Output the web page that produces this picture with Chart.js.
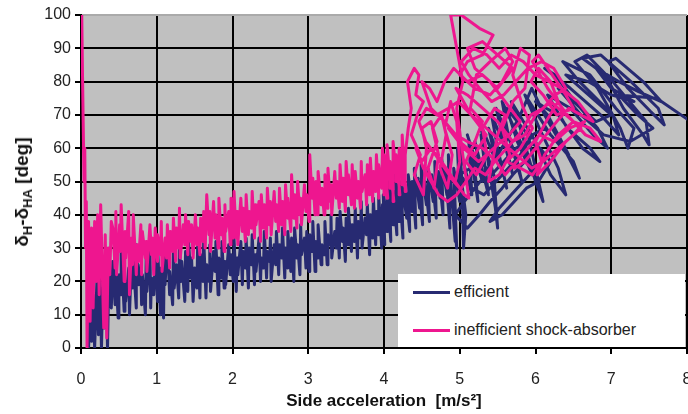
<!DOCTYPE html>
<html>
<head>
<meta charset="utf-8">
<script src="https://cdn.jsdelivr.net/npm/chart.js@4.4.1/dist/chart.umd.min.js"></script>
<style>
  html, body { margin: 0; padding: 0; background: #fff; }
  #wrap { position: relative; width: 688px; height: 414px; overflow: hidden; font-family: "Liberation Sans", Arial, sans-serif; }
  #chart { position: absolute; left: 0; top: 0; }
  .ytitle { position: absolute; left: 23px; top: 192px; transform: translate(-50%, -50%) rotate(-90deg); white-space: nowrap; font-weight: bold; font-size: 19px; color: #111; }
  .ytitle sub { font-size: 13px; vertical-align: -4px; }
  .xtitle { position: absolute; left: 384px; top: 401px; transform: translate(-50%, -50%); white-space: nowrap; font-weight: bold; font-size: 17px; color: #111; }
  #legend { position: absolute; left: 398px; top: 274px; width: 287px; height: 73px; background: #fff; }
  .item { position: absolute; left: 15px; height: 20px; display: flex; align-items: center; font-size: 16px; color: #222; }
  .item .swatch { width: 37px; height: 3px; margin-right: 4px; }
</style>
</head>
<body>
<div id="wrap">
  <canvas id="chart" width="688" height="414"></canvas>
  <div class="ytitle">δ<sub>H</sub>-δ<sub>HA</sub> [deg]</div>
  <div class="xtitle">Side acceleration&nbsp; [m/s²]</div>
  <div id="legend"></div>
</div>
<script>
// axis ticks
const xTicks = [0, 1, 2, 3, 4, 5, 6, 7, 8];
const yTicks = [0, 10, 20, 30, 40, 50, 60, 70, 80, 90, 100];

// series names + colours
const seriesNames = ["efficient", "inefficient shock-absorber"];
const seriesColors = ["#272a72", "#ee168f"];

const effX = [
  0.10, 0.12, 0.14, 0.16, 0.18, 0.21, 0.23, 0.25, 0.27, 0.29, 0.31, 0.33, 0.35, 0.37, 0.40,
  0.42, 0.45, 0.45, 0.49, 0.50, 0.53, 0.53, 0.57, 0.58, 0.59, 0.63, 0.64, 0.67, 0.68, 0.69, 0.73, 0.73, 0.76, 0.79, 0.80,
  0.81, 0.85, 0.86, 0.87, 0.91, 0.92, 0.93, 0.96, 0.98, 1.01, 1.01, 1.05, 1.06, 1.09, 1.10, 1.11, 1.14, 1.17, 1.17, 1.21,
  1.22, 1.23, 1.26, 1.29, 1.30, 1.32, 1.33, 1.37, 1.38, 1.41, 1.42, 1.45, 1.46, 1.48, 1.50, 1.53, 1.54, 1.57, 1.58, 1.61,
  1.62, 1.65, 1.66, 1.69, 1.70, 1.71, 1.75, 1.77, 1.78, 1.81, 1.82, 1.85, 1.86, 1.89, 1.90, 1.91, 1.95, 1.97, 1.98, 2.01,
  2.02, 2.05, 2.06, 2.07, 2.11, 2.13, 2.14, 2.17, 2.18, 2.21, 2.22, 2.25, 2.26, 2.29, 2.30, 2.31, 2.35, 2.37, 2.38, 2.41,
  2.42, 2.45, 2.46, 2.49, 2.50, 2.51, 2.55, 2.57, 2.58, 2.61, 2.62, 2.65, 2.66, 2.69, 2.70, 2.73, 2.73, 2.77, 2.78, 2.81,
  2.82, 2.85, 2.86, 2.89, 2.90, 2.91, 2.95, 2.97, 2.98, 3.01, 3.02, 3.05, 3.06, 3.09, 3.10, 3.13, 3.13, 3.17, 3.18, 3.21,
  3.22, 3.25, 3.26, 3.29, 3.30, 3.31, 3.35, 3.37, 3.38, 3.41, 3.42, 3.45, 3.46, 3.49, 3.50, 3.53, 3.53, 3.57, 3.58, 3.61,
  3.62, 3.65, 3.66, 3.69, 3.70, 3.71, 3.75, 3.77, 3.78, 3.81, 3.82, 3.85, 3.86, 3.89, 3.90, 3.93, 3.93, 3.97, 3.98,
  4.01, 3.99, 4.05, 4.04, 4.09, 4.07, 4.13, 4.12, 4.17, 4.15, 4.21, 4.20, 4.25, 4.23, 4.30, 4.28, 4.34, 4.32, 4.38, 4.37,
  4.42, 4.40, 4.47, 4.45, 4.51, 4.49, 4.56, 4.54, 4.60, 4.58, 4.65, 4.63, 4.69, 4.67, 4.74, 4.72, 4.78, 4.76, 4.83, 4.81,
  4.87, 4.85, 4.94, 4.88, 4.96, 4.92, 5.00, 4.97,
  5.08, 5.05, 5.03, 5.00, 5.16, 5.12, 5.24, 5.18, 5.10, 5.30, 5.20, 5.38, 5.28, 5.45, 5.50, 5.47, 5.36, 5.26, 5.48, 5.38,
  5.56, 5.62, 5.50, 5.42, 5.64, 5.70, 5.56, 5.48, 5.74, 5.82, 5.64, 5.56, 5.84, 5.96, 5.76, 5.62, 5.90, 6.10, 6.00, 5.80,
  5.68, 6.00, 6.20, 6.40, 6.30, 6.05, 5.86, 6.20, 6.50, 6.58, 6.42, 6.12, 5.95,
  5.80, 5.66, 5.50, 5.34, 5.20, 5.06, 4.94, 5.10, 5.26, 5.40, 5.56, 5.70, 5.86, 6.00, 5.84, 5.68, 5.52, 5.40, 5.56, 5.72,
  5.88, 6.04, 6.20, 6.06, 5.90, 5.74, 5.58, 5.42, 5.28, 5.14, 5.00, 5.16, 5.32, 5.48, 5.64, 5.80, 5.96, 6.12, 6.28, 6.44,
  6.30, 6.16, 6.00, 6.14,
  6.30, 6.62, 6.85, 6.72, 6.42, 6.16, 6.46, 6.76, 6.95, 6.82, 6.52, 6.26, 6.12, 6.46, 6.86, 7.10, 7.02, 6.58, 6.36, 6.72,
  7.06, 7.30, 7.22, 7.12, 6.82, 6.52, 6.68, 7.02, 7.46, 7.50, 7.42, 7.16, 6.92, 6.62, 6.86, 7.26, 7.62, 7.70, 7.52, 7.22,
  6.96, 7.06, 7.42, 7.66, 7.36, 7.10, 6.80, 7.00, 7.30, 7.00, 6.70, 6.40, 6.70, 7.00, 6.80, 6.50, 6.30, 6.60, 6.90, 7.25,
  7.55, 7.35, 7.10, 7.60, 8.05
];
const effY = [
  0, 14, 2, 16, 0, 20, 4, 24, 0, 18, 6, 22, 0, 25, 12,
  26, 13, 27, 9, 22, 16, 30, 11, 20, 14, 24, 10, 29, 18, 26, 12, 31, 19, 25, 13,
  22, 10, 27, 17, 30, 12, 21, 16, 29, 14, 31, 10, 24, 9, 28, 19, 32, 16, 23, 13,
  30, 18, 25, 15, 31, 20, 26, 14, 29, 17, 32, 21, 27, 14, 24, 18, 31, 15, 28, 20,
  33, 15, 25, 20, 31, 17, 29, 23, 32, 16, 27, 21, 32, 18, 26, 19, 31, 22, 28, 20,
  33, 17, 27, 22, 32, 19, 29, 24, 33, 18, 30, 25, 34, 19, 28, 23, 33, 20, 27, 24,
  35, 21, 29, 26, 33, 20, 31, 25, 35, 22, 31, 27, 36, 21, 30, 24, 35, 23, 33, 20,
  36, 27, 31, 22, 37, 28, 33, 24, 35, 23, 34, 29, 38, 23, 32, 27, 37, 25, 31, 28,
  38, 25, 34, 31, 40, 27, 35, 30, 39, 27, 41, 32, 36, 26, 39, 31, 42, 29, 37, 32,
  42, 27, 38, 33, 44, 30, 39, 34, 43, 28, 40, 33, 45, 31, 41, 34, 46, 30, 43,
  31, 46, 35, 48, 32, 50, 37, 47, 34, 52, 38, 49, 33, 50, 39, 48, 35, 52, 41, 50,
  36, 54, 42, 51, 37, 55, 43, 50, 38, 54, 44, 52, 39, 56, 45, 53, 40, 57, 46, 54,
  36, 58, 32, 50, 30, 54, 44, 60,
  40, 30, 50, 60, 46, 62, 44, 58, 64, 50, 62, 46, 64, 52, 36, 42, 58, 68, 56, 66,
  54, 48, 60, 70, 58, 52, 64, 72, 58, 50, 64, 74, 60, 52, 62, 72, 64, 44, 50, 66,
  74, 62, 52, 46, 54, 66, 76, 64, 56, 51, 58, 70, 78,
  70, 64, 58, 52, 48, 44, 40, 36, 40, 44, 48, 52, 56, 54, 50, 46, 42, 38, 40, 44,
  48, 50, 56, 60, 62, 60, 56, 52, 56, 54, 52, 48, 46, 50, 54, 58, 64, 66, 62, 58,
  64, 70, 74, 72,
  70, 60, 56, 60, 66, 76, 72, 64, 60, 66, 74, 82, 84, 78, 70, 64, 70, 80, 86, 82,
  72, 66, 60, 66, 78, 86, 88, 80, 68, 61, 64, 72, 82, 87, 88, 80, 72, 67, 71, 78,
  86, 87, 80, 74, 77, 80, 84, 78, 74, 76, 80, 82, 76, 70, 68, 74, 78, 70, 64, 62,
  66, 70, 76, 75, 68
];

const inefX = [
  0.01, 0.02, 0.03, 0.04, 0.05, 0.06, 0.07, 0.08, 0.10, 0.12, 0.14, 0.16, 0.18, 0.20, 0.22, 0.24, 0.26, 0.28, 0.30, 0.32,
  0.34, 0.36, 0.38, 0.40,
  0.42, 0.45, 0.46, 0.47, 0.51, 0.52, 0.53, 0.57, 0.58, 0.59, 0.63, 0.64, 0.67, 0.68, 0.69, 0.73, 0.74, 0.76, 0.79, 0.80,
  0.81, 0.85, 0.86, 0.87, 0.91, 0.93, 0.94, 0.96, 0.98, 1.01, 1.01, 1.05, 1.06, 1.07, 1.11, 1.13, 1.14, 1.17, 1.18, 1.21,
  1.22, 1.25, 1.26, 1.29, 1.30, 1.31, 1.35, 1.37, 1.38, 1.41, 1.42, 1.45, 1.46, 1.48, 1.51, 1.53, 1.54, 1.57, 1.58, 1.61,
  1.62, 1.64, 1.66, 1.69, 1.70, 1.71, 1.75, 1.77, 1.78, 1.81, 1.82, 1.85, 1.86, 1.89, 1.90, 1.91, 1.95, 1.97, 1.98, 2.01,
  2.02, 2.05, 2.06, 2.07, 2.11, 2.13, 2.14, 2.17, 2.18, 2.21, 2.22, 2.25, 2.26, 2.29, 2.30, 2.31, 2.35, 2.37, 2.38, 2.41,
  2.42, 2.45, 2.46, 2.49, 2.50, 2.51, 2.55, 2.57, 2.58, 2.61, 2.62, 2.65, 2.66, 2.69, 2.70, 2.73, 2.73, 2.77, 2.78, 2.81,
  2.82, 2.85, 2.86, 2.89, 2.90, 2.91, 2.95, 2.97, 2.98, 3.01, 3.02, 3.05, 3.06, 3.09, 3.10, 3.13, 3.13, 3.17, 3.18, 3.21,
  3.22, 3.25, 3.26, 3.29, 3.30, 3.31, 3.35, 3.37, 3.38, 3.41, 3.42, 3.45, 3.46, 3.49, 3.50, 3.53, 3.53, 3.57, 3.58, 3.61,
  3.62, 3.65, 3.66, 3.69, 3.70, 3.71, 3.75, 3.77, 3.78, 3.81, 3.82, 3.85, 3.86, 3.89, 3.90, 3.93, 3.93, 3.97, 3.98,
  4.01, 4.00, 4.05, 4.04, 4.09, 4.08, 4.13, 4.12, 4.17, 4.16, 4.21, 4.20, 4.25, 4.24, 4.29, 4.28, 4.32, 4.36, 4.31, 4.40,
  4.46, 4.42, 4.52, 4.44, 4.36, 4.48, 4.40, 4.52, 4.56, 4.50, 4.62, 4.70, 4.58, 4.66, 4.72, 4.64, 4.76, 4.82, 4.74, 4.84,
  4.90, 4.80, 4.88, 4.96, 5.00, 4.94, 5.06, 5.12, 5.04, 4.96, 5.04, 4.96, 4.88, 5.02, 5.26, 5.44, 5.30, 5.10, 5.00, 5.20,
  5.40, 5.56, 5.70, 5.60, 5.40, 5.22, 5.14, 5.30, 5.20, 5.08, 5.22, 5.36, 5.30, 5.46, 5.60, 5.50, 5.38, 5.52, 5.66, 5.56,
  5.70, 5.86, 5.92, 5.80, 5.70, 5.84, 5.96, 5.80, 5.62, 5.80, 5.96, 6.08, 6.00, 6.14, 6.30, 6.20, 6.04, 5.94, 6.10, 6.28,
  6.50, 6.40, 6.22, 6.04, 5.96, 6.16, 6.42, 6.66, 6.86, 6.72, 6.50, 6.30, 6.12, 6.02, 6.20, 6.40, 6.60, 6.40, 6.20, 6.00,
  5.86, 5.70, 5.50, 5.30, 5.10, 4.95, 5.15, 5.35, 5.20, 5.00, 4.85, 5.05, 5.25, 5.45, 5.65, 5.80, 5.60, 5.40, 5.20, 5.10,
  5.30, 5.50, 5.70, 5.50, 5.30, 5.10, 4.92, 4.80, 4.70, 4.60, 4.50, 4.62, 4.80, 4.95, 5.10, 5.30, 5.48, 5.60,
  5.75, 5.90, 6.05, 6.25, 6.45, 6.65, 6.50, 6.30, 6.10, 5.95, 5.75, 5.55, 5.35, 5.15, 4.98, 4.85, 4.70, 4.56, 4.46, 4.55,
  4.68, 4.80, 4.92, 5.00, 4.88, 4.76, 4.62, 4.50, 4.42, 4.52, 4.62, 4.72, 4.84, 4.96, 5.08, 5.20, 5.34, 5.46, 5.62, 5.78,
  5.94, 6.10, 6.26, 6.40, 6.24, 6.08, 5.90, 5.74, 5.58, 5.42, 5.26, 5.12, 5.02, 5.18, 5.36, 5.52, 5.68, 5.84, 6.00, 6.18,
  6.34, 6.56, 6.76, 6.60, 6.44, 6.28, 6.14, 6.00, 5.86, 5.72
];
const inefY = [
  100, 82, 66, 50, 60, 30, 44, 0, 38, 8, 36, 12, 38, 20, 40, 16, 43, 24, 6, 34,
  3, 30, 22, 38,
  36, 24, 41, 22, 37, 29, 43, 20, 35, 27, 41, 16, 33, 25, 40, 22, 31, 26, 37, 22,
  35, 27, 32, 23, 37, 28, 33, 22, 36, 26, 34, 28, 38, 23, 33, 27, 37, 24, 35, 29,
  39, 26, 36, 30, 42, 27, 37, 31, 40, 28, 38, 32, 37, 27, 40, 31, 36, 28, 39, 32,
  41, 30, 46, 34, 41, 29, 44, 33, 40, 30, 45, 34, 39, 29, 43, 35, 41, 31, 45, 33,
  47, 33, 41, 31, 45, 35, 42, 32, 46, 34, 41, 36, 47, 33, 43, 37, 44, 32, 46, 36,
  43, 33, 48, 37, 44, 34, 47, 38, 43, 35, 48, 37, 44, 34, 49, 39, 45, 35, 52, 39,
  46, 36, 50, 40, 45, 37, 49, 41, 46, 38, 58, 45, 51, 40, 50, 40, 53, 43, 48, 40,
  52, 42, 54, 44, 49, 40, 53, 45, 50, 42, 55, 44, 51, 41, 56, 46, 52, 43, 55, 42,
  53, 45, 50, 42, 56, 47, 52, 43, 55, 46, 57, 44, 53, 47, 58, 45, 55, 48, 60,
  46, 58, 45, 61, 48, 56, 44, 62, 50, 58, 46, 60, 49, 64, 47, 58, 66, 72, 80, 84,
  82, 76, 74, 70, 64, 58, 52, 46, 60, 66, 68, 62, 54, 48, 58, 66, 70, 64, 54, 48,
  58, 66, 74, 68, 56, 50, 46, 45, 58, 72, 80, 90, 100, 100, 96, 94, 88, 86, 82, 78,
  76, 80, 86, 90, 86, 82, 72, 68, 62, 56, 52, 58, 66, 72, 70, 64, 50, 52, 58, 66,
  74, 78, 88, 90, 82, 72, 66, 60, 56, 54, 52, 56, 62, 68, 74, 80, 84, 80, 76, 70,
  72, 76, 82, 88, 86, 78, 70, 64, 62, 66, 68, 64, 58, 52, 56, 62, 66, 70, 74, 70,
  64, 62, 68, 72, 76, 78, 70, 64, 58, 62, 66, 60, 56, 60, 64, 68, 74, 80, 84, 90,
  92, 88, 84, 78, 82, 80, 84, 80, 74, 78, 80, 72, 68, 64, 62, 60, 56, 52,
  56, 60, 64, 62, 66, 68, 64, 60, 56, 54, 58, 62, 66, 70, 74, 72, 70, 72, 68, 62,
  58, 54, 50, 48, 52, 56, 60, 56, 60, 54, 50, 46, 44, 46, 50, 54, 52, 56, 60, 64,
  70, 72, 76, 78, 84, 86, 84, 80, 76, 74, 78, 82, 86, 90, 88, 84, 88, 86, 82, 80,
  78, 74, 68, 70, 72, 68, 64, 60, 56, 54
];

const toPoints = (xs, ys) => xs.map((x, i) => ({ x: x, y: ys[i] }));

// grey plot background
const plotBg = {
  id: "plotBg",
  beforeDraw(chart) {
    const a = chart.chartArea, c = chart.ctx;
    c.save();
    c.fillStyle = "#c0c0c0";
    c.fillRect(a.left, a.top, a.right - a.left, a.bottom - a.top);
    c.restore();
  }
};

const tickFont = { family: "'Liberation Sans', Arial, sans-serif", size: 16 };

new Chart(document.getElementById("chart"), {
  type: "line",
  data: {
    datasets: [
      { label: seriesNames[1], data: toPoints(inefX, inefY), borderColor: seriesColors[1] },
      { label: seriesNames[0], data: toPoints(effX, effY), borderColor: seriesColors[0] }
    ].map((d) => ({ ...d, borderWidth: 3, pointRadius: 0, tension: 0, borderJoinStyle: "round", borderCapStyle: "round", clip: 0 }))
  },
  options: {
    responsive: false,
    animation: false,
    layout: { padding: { top: 15, right: 1, left: 0, bottom: 0 } },
    plugins: { legend: { display: false }, tooltip: { enabled: false } },
    scales: {
      x: {
        type: "linear", min: xTicks[0], max: xTicks[xTicks.length - 1],
        afterBuildTicks: (s) => { s.ticks = xTicks.map((v) => ({ value: v })); },
        afterFit: (s) => { s.height = 66; s.paddingLeft = 0; s.paddingRight = 0; },
        ticks: { color: "#222", font: tickFont, padding: 16, maxRotation: 0 },
        grid: { color: "#000", lineWidth: 2, tickLength: 6, tickColor: "#000" },
        border: { color: "#000", width: 2 }
      },
      y: {
        min: yTicks[0], max: yTicks[yTicks.length - 1],
        afterBuildTicks: (s) => { s.ticks = yTicks.map((v) => ({ value: v })); },
        afterFit: (s) => { s.width = 81; s.paddingTop = 0; s.paddingBottom = 0; },
        ticks: { color: "#222", font: tickFont, padding: 4 },
        grid: {
          color: (c) => (c.tick && c.tick.value === 100 ? "#aaa" : "#000"),
          lineWidth: 2, tickLength: 6, tickColor: "#000"
        },
        border: { color: "#000", width: 2 }
      }
    }
  },
  plugins: [plotBg]
});

// legend box inside the plot, as in the picture
const legend = document.getElementById("legend");
[0, 1].forEach((i) => {
  const row = document.createElement("div");
  row.className = "item";
  row.style.top = (i === 0 ? 8 : 46) + "px";
  row.innerHTML = `<span class="swatch" style="background:${seriesColors[i]}"></span><span>${seriesNames[i]}</span>`;
  legend.appendChild(row);
});
</script>
</body>
</html>
